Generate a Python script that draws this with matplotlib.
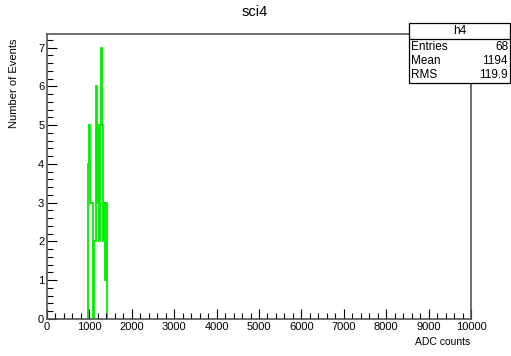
#!/usr/bin/env python3
# ROOT-style histogram "sci4" (h4) redrawn with matplotlib.
import numpy as np
import matplotlib
matplotlib.use('Agg')
import matplotlib.pyplot as plt
from matplotlib.ticker import MultipleLocator

plt.rcParams['font.family'] = ['Liberation Sans', 'DejaVu Sans']

# bin edges (25 ADC wide) and counts
bin_lo = 975
bin_w = 25
counts = [4, 5, 3, 3, 0, 2, 2, 6, 3, 5, 2, 5, 7, 5, 2, 3, 1, 3]
stats_names = ["Entries", "Mean", "RMS"]
stats_vals = ["68", "1194", "119.9"]

edges = bin_lo + bin_w*np.arange(len(counts)+1)

W, H = 511, 356
fig = plt.figure(figsize=(W/100, H/100), dpi=100)
L, R, T, B = 47, 471, 34, 319
ax = fig.add_axes([L/W, 1-B/H, (R-L)/W, (B-T)/H])
ax.stairs(counts, edges, color='#00ee00', lw=1.3, baseline=0)
ax.set_xlim(0, 10000)
ax.set_ylim(0, 7.35)

ax.xaxis.set_major_locator(MultipleLocator(1000))
ax.xaxis.set_minor_locator(MultipleLocator(200))
ax.yaxis.set_major_locator(MultipleLocator(1))
ax.yaxis.set_minor_locator(MultipleLocator(0.2))
ax.tick_params(which='both', direction='in', top=False, right=False, labelsize=8, pad=2)
ax.tick_params(which='major', length=7, width=0.8)
ax.tick_params(which='minor', length=4, width=0.8)
for s in ax.spines.values():
    s.set_color('#555555')
    s.set_linewidth(1.2)

fig.text(255/W, 1-12/H, "sci4", ha='center', va='center', fontsize=10.5)
fig.text(470/W, 1-342/H, "ADC counts", ha='right', va='center', fontsize=7.5)
fig.text(14/W, 1-38/H, "Number of Events", ha='center', va='top', rotation=90, fontsize=8)

# stats box
bx0, bx1, by0, by1 = 409, 510, 23, 83
box = plt.Rectangle((bx0/W, 1-by1/H), (bx1-bx0)/W, (by1-by0)/H, transform=fig.transFigure,
                    facecolor='white', edgecolor='black', lw=0.9, zorder=5)
fig.add_artist(box)
fig.add_artist(plt.Line2D([bx0/W, bx1/W], [1-39/H, 1-39/H], transform=fig.transFigure, color='black', lw=0.9, zorder=6))
fig.text((bx0+bx1)/2/W, 1-31/H, "h4", ha='center', va='center', fontsize=8.5, zorder=7)
for i, (n, v) in enumerate(zip(stats_names, stats_vals)):
    y = 1-(47+14*i)/H
    fig.text((bx0+2)/W, y, n, ha='left', va='center', fontsize=8.5, zorder=7)
    fig.text((bx1-2)/W, y, v, ha='right', va='center', fontsize=8.5, zorder=7)

fig.savefig("out.png", dpi=100)
